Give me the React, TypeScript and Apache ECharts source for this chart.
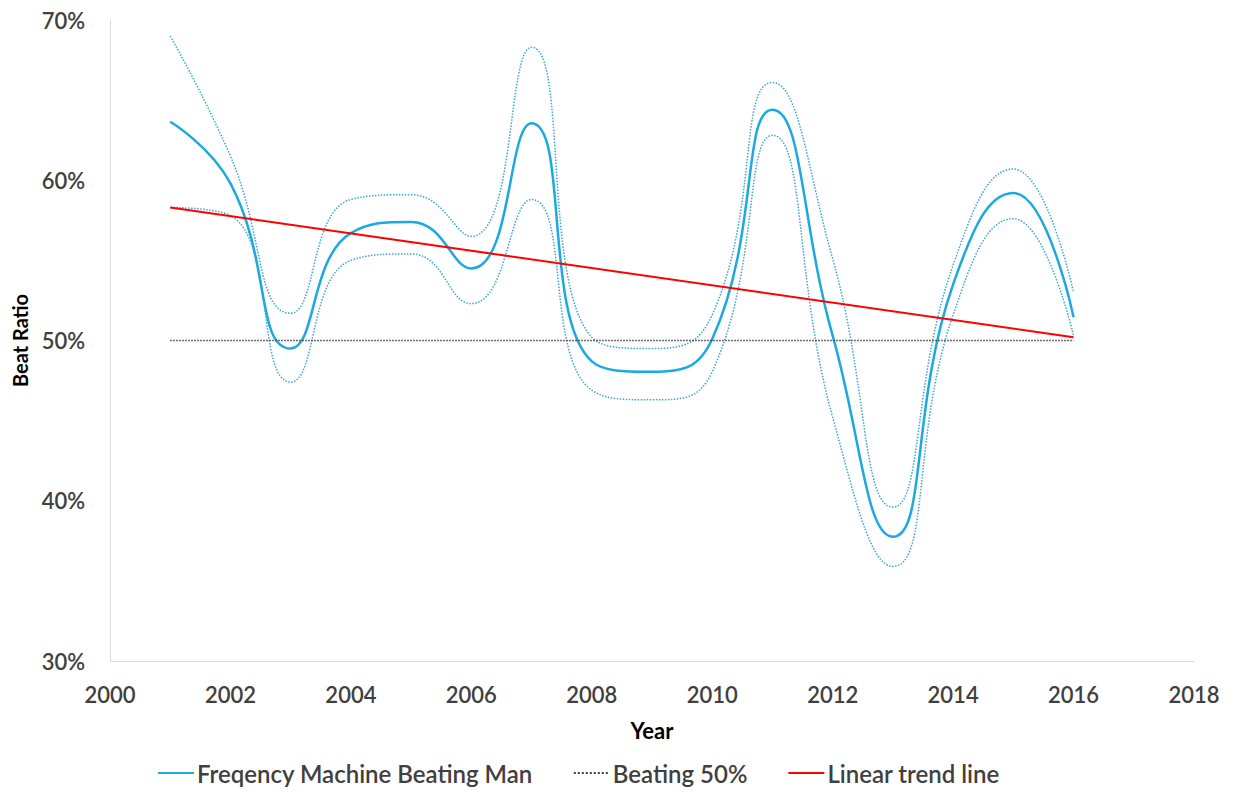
import React, { useEffect, useRef } from "react";
import * as echarts from "echarts";

const years = [2001, 2002, 2003, 2004, 2005, 2006, 2007, 2008, 2009, 2010, 2011, 2012, 2013, 2014, 2015, 2016];
const beatRatio = [63.65, 59.8, 49.5, 56.7, 57.4, 54.5, 63.55, 48.7, 48.05, 50.1, 64.4, 50.3, 37.75, 53.5, 59.2, 51.45];
const upperBound = [69.0, 61.5, 51.7, 58.8, 59.1, 56.5, 68.3, 50.2, 49.5, 51.6, 66.1, 55.1, 39.6, 54.7, 60.7, 53.0];
const lowerBound = [58.3, 57.8, 47.4, 55.0, 55.4, 52.3, 58.8, 46.9, 46.3, 48.05, 62.8, 45.2, 35.9, 51.6, 57.6, 50.3];
const fiftyYears = [2001, 2016];
const fiftyValues = [50, 50];
const trendYears = [2001, 2016];
const trendValues = [58.3, 50.2];

const FONT = "Lato";

export default function App() {
  const ref = useRef<HTMLDivElement>(null);
  useEffect(() => {
    if (!ref.current) return;
    const chart = echarts.init(ref.current, undefined, { renderer: "svg" });
    const pair = (xs: number[], ys: number[]) => xs.map((x, i) => [x, ys[i]]);
    chart.setOption({
      animation: false,
      backgroundColor: "#ffffff",
      grid: { left: 110, right: 42, top: 20, bottom: 132 },
      legend: {
        data: ["Freqency Machine Beating Man", "Beating 50%", "Linear trend line"],
        bottom: 3,
        left: 152,
        itemWidth: 36,
        itemHeight: 14,
        itemGap: 40,
        itemStyle: { opacity: 0 },
        textStyle: { fontFamily: FONT, fontSize: 24, fontWeight: 600, color: "#404040", padding: [0, 0, 0, -2] },
      },
      xAxis: {
        type: "value",
        min: 2000,
        max: 2018,
        interval: 2,
        name: "Year",
        nameLocation: "middle",
        nameGap: 58,
        nameTextStyle: { fontFamily: FONT, fontSize: 22, fontWeight: "bold", color: "#000" },
        axisLine: { show: true, lineStyle: { color: "#d9d9d9", width: 1 } },
        axisTick: { show: false },
        splitLine: { show: false },
        axisLabel: {
          fontFamily: FONT,
          fontSize: 22,
          fontWeight: 600,
          color: "#404040",
          margin: 22,
          formatter: (v: number) => String(v),
        },
      },
      yAxis: {
        type: "value",
        min: 30,
        max: 70,
        interval: 10,
        name: "Beat Ratio",
        nameLocation: "middle",
        nameGap: 80,
        nameRotate: 90,
        nameTextStyle: { fontFamily: FONT, fontSize: 20, fontWeight: "bold", color: "#000" },
        axisLine: { show: true, lineStyle: { color: "#d9d9d9", width: 1 } },
        axisTick: { show: false },
        splitLine: { show: false },
        axisLabel: { fontFamily: FONT, fontSize: 22, fontWeight: 600, color: "#404040", margin: 25, formatter: "{value}%" },
      },
      series: [
        {
          name: "Upper",
          type: "line",
          data: pair(years, upperBound),
          smooth: 0.5,
          symbol: "none",
          lineStyle: { color: "#3aa6d4", width: 1.5, type: "dotted" },
          z: 2,
        },
        {
          name: "Lower",
          type: "line",
          data: pair(years, lowerBound),
          smooth: 0.5,
          symbol: "none",
          lineStyle: { color: "#3aa6d4", width: 1.5, type: "dotted" },
          z: 2,
        },
        {
          name: "Freqency Machine Beating Man",
          type: "line",
          data: pair(years, beatRatio),
          smooth: 0.5,
          symbol: "none",
          itemStyle: { color: "#1ba9e0" },
          lineStyle: { color: "#1ba9e0", width: 2.5 },
          z: 3,
        },
        {
          name: "Beating 50%",
          type: "line",
          data: pair(fiftyYears, fiftyValues),
          symbol: "none",
          itemStyle: { color: "#404040" },
          lineStyle: { color: "#404040", width: 1.5, type: "dotted" },
          z: 4,
        },
        {
          name: "Linear trend line",
          type: "line",
          data: pair(trendYears, trendValues),
          symbol: "none",
          itemStyle: { color: "#ff0000" },
          lineStyle: { color: "#ff0000", width: 2 },
          z: 5,
        },
      ],
    });
    return () => chart.dispose();
  }, []);
  return <div ref={ref} style={{ width: 1236, height: 793, position: "absolute", left: 0, top: 0 }} />;
}
